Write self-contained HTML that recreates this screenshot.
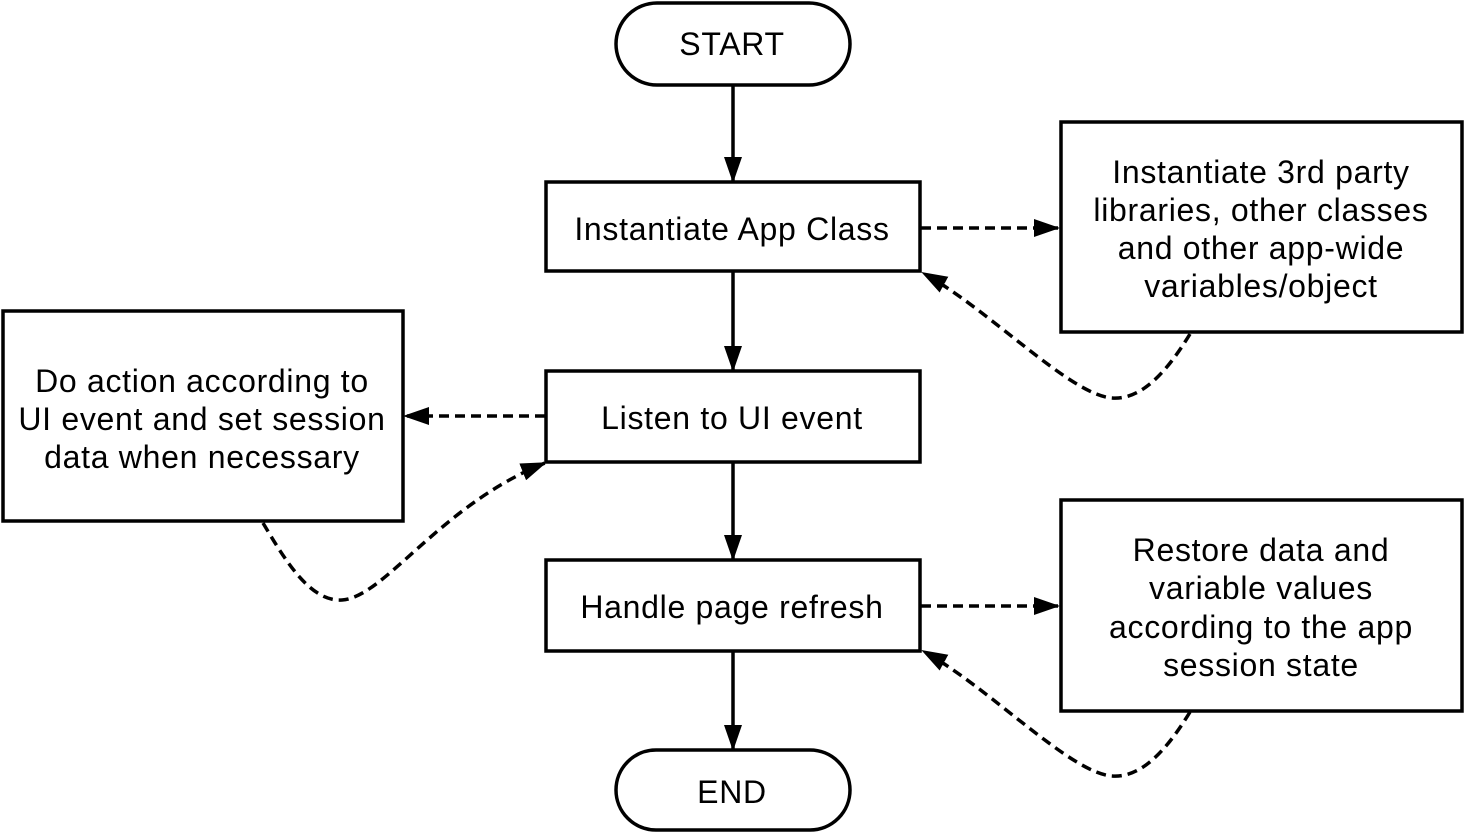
<!DOCTYPE html>
<html><head><style>
html,body{margin:0;padding:0;background:#fff;}
svg{display:block;}
text{font-family:"Liberation Sans",Arial,sans-serif;font-size:32px;letter-spacing:0.7px;fill:#000;text-anchor:middle;}
</style></head><body>
<svg width="1464" height="833" viewBox="0 0 1464 833" xmlns="http://www.w3.org/2000/svg">
<defs>
<marker id="a" markerWidth="26" markerHeight="18" refX="24" refY="9" orient="auto" markerUnits="userSpaceOnUse">
<path d="M0,0 L26,9 L0,18 Z" fill="#000"/>
</marker>
</defs>
<g fill="#fff" stroke="#000" stroke-width="3.5">
<rect x="616" y="3" width="234" height="82" rx="41"/>
<rect x="546" y="182" width="374" height="89"/>
<rect x="546" y="371" width="374" height="91"/>
<rect x="546" y="560" width="374" height="91"/>
<rect x="616" y="750" width="234" height="80" rx="40"/>
<rect x="1061" y="122" width="401" height="210"/>
<rect x="1061" y="500" width="401" height="211"/>
<rect x="3" y="311" width="400" height="210"/>
</g>
<g stroke="#000" stroke-width="3.5" fill="none" marker-end="url(#a)">
<line x1="733" y1="85" x2="733" y2="181"/>
<line x1="733" y1="271" x2="733" y2="370"/>
<line x1="733" y1="462" x2="733" y2="559"/>
<line x1="733" y1="651" x2="733" y2="749"/>
</g>
<g stroke="#000" stroke-width="3.5" fill="none" stroke-dasharray="10,6" marker-end="url(#a)">
<line x1="921" y1="228" x2="1058" y2="228"/>
<line x1="545" y1="416" x2="405" y2="416"/>
<line x1="921" y1="606" x2="1058" y2="606"/>
<path d="M1190,334 C1165,375 1140,400 1112,398 C1070,395 990,310 923,273"/>
<path d="M263,523 C285,560 310,602 342,600 C385,597 440,505 545,463"/>
<path d="M1190,712 C1165,753 1140,778 1112,776 C1070,773 990,688 923,651"/>
</g>
<text x="732" y="55">START</text>
<text x="732" y="240">Instantiate App Class</text>
<text x="732" y="429">Listen to UI event</text>
<text x="732" y="618">Handle page refresh</text>
<text x="732" y="803">END</text>
<text x="1261" y="183">Instantiate 3rd party</text>
<text x="1261" y="221">libraries, other classes</text>
<text x="1261" y="259">and other app-wide</text>
<text x="1261" y="297">variables/object</text>
<text x="1261" y="561">Restore data and</text>
<text x="1261" y="599">variable values</text>
<text x="1261" y="638">according to the app</text>
<text x="1261" y="676">session state</text>
<text x="202" y="392">Do action according to</text>
<text x="202" y="430">UI event and set session</text>
<text x="202" y="468">data when necessary</text>
</svg>
</body></html>
